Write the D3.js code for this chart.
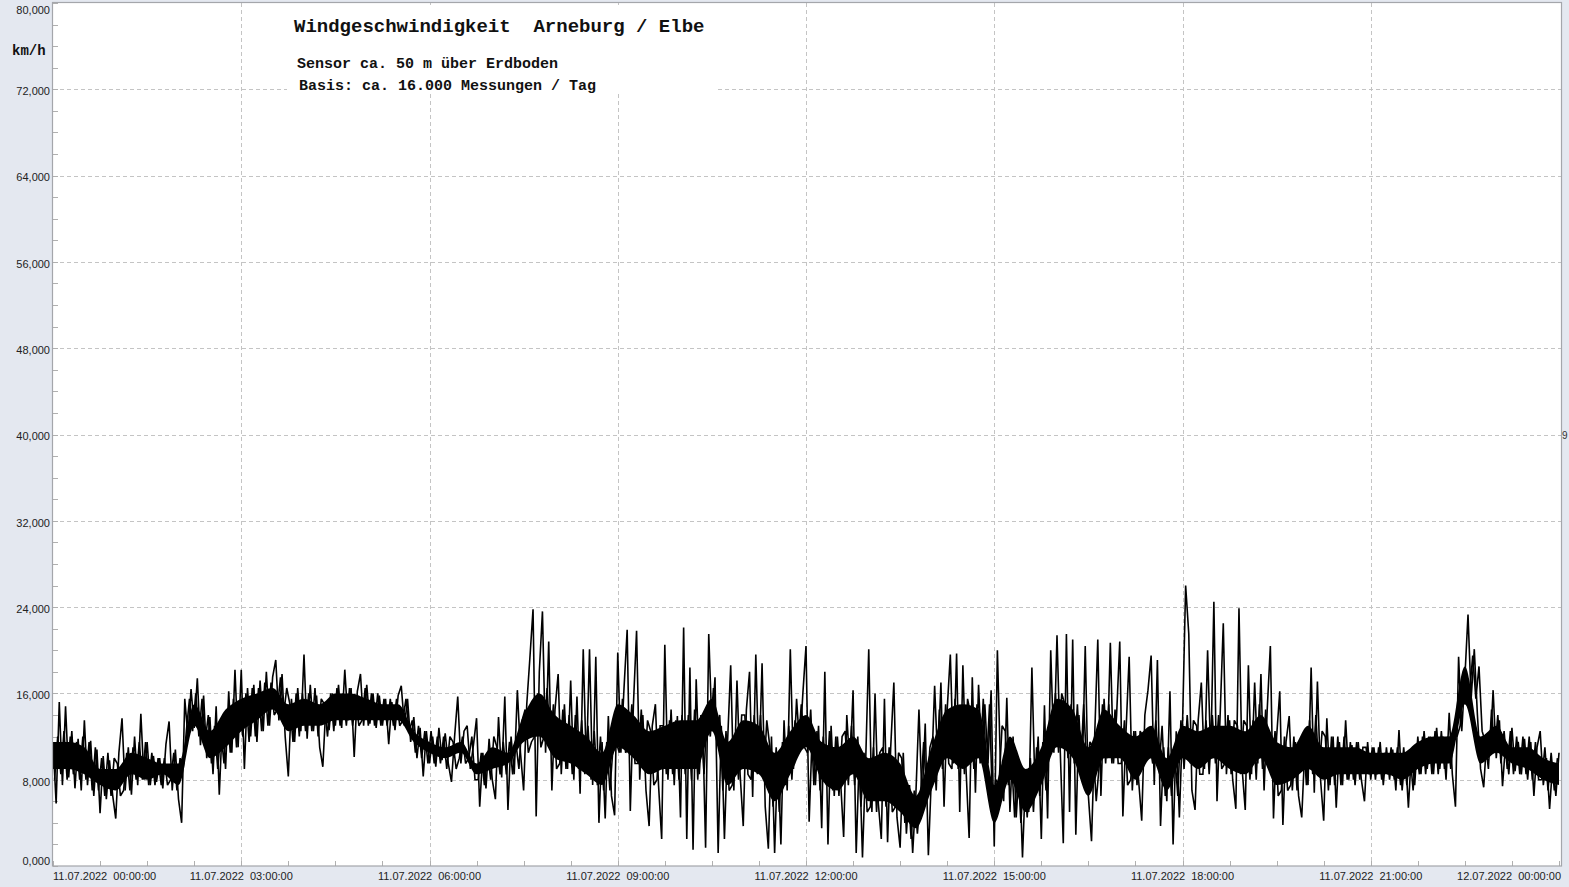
<!DOCTYPE html>
<html>
<head>
<meta charset="utf-8">
<script src="https://cdn.jsdelivr.net/npm/d3@7"></script>
<style>
  html, body { margin: 0; padding: 0; background: #e4e8f0; }
  svg { display: block; }
</style>
</head>
<body>
<svg id="chart" width="1569" height="887"></svg>
<script>
// ---- data (km/h) ----
// readings every 3 minutes from 11.07.2022 00:00 to 12.07.2022 00:00 (peaks / troughs)
const stepMinutes = 3;
const speed = [
  11.5, 5.8, 15.2, 7.5, 14.8, 8.2, 12.5, 7.2, 11.8, 7.0,
  13.5, 7.5, 11.6, 6.5, 10.8, 4.9, 10.2, 6.2, 9.8, 6.6,
  4.4, 10.5, 13.7, 7.0, 11.0, 6.6, 12.0, 7.5, 14.1, 8.0,
  11.5, 7.5, 10.2, 7.8, 10.0, 7.2, 11.3, 13.4, 7.0, 10.8,
  6.2, 4.0, 15.5, 12.0, 16.4, 12.8, 17.4, 11.2, 15.8, 10.0,
  13.8, 8.5, 14.8, 6.6, 13.5, 9.0, 16.2, 10.5, 18.2, 11.0,
  18.2, 9.0, 16.5, 12.0, 16.8, 11.5, 17.2, 12.5, 18.0, 13.0,
  17.5, 19.1, 13.5, 17.8, 12.0, 8.3, 15.5, 11.5, 16.5, 12.5,
  19.6, 11.8, 16.8, 12.5, 15.8, 11.0, 9.2, 15.0, 12.6, 16.0,
  13.0, 16.8, 12.8, 18.2, 13.5, 16.5, 10.1, 16.2, 17.8, 13.0,
  16.8, 13.2, 16.0, 12.8, 15.8, 13.0, 15.5, 11.3, 15.2, 12.6,
  15.8, 16.7, 13.0, 15.5, 11.5, 13.8, 10.0, 12.8, 8.3, 12.5,
  9.5, 12.0, 9.2, 12.8, 9.8, 12.3, 9.5, 7.8, 12.0, 15.7,
  9.5, 12.5, 13.0, 9.0, 11.2, 13.7, 5.5, 10.5, 7.2, 11.8,
  8.0, 6.2, 13.8, 8.2, 15.7, 5.2, 12.0, 8.5, 16.3, 10.5,
  7.0, 15.0, 19.3, 23.8, 4.6, 18.0, 23.6, 10.5, 20.8, 7.0,
  14.5, 17.8, 8.5, 15.0, 9.0, 17.2, 8.0, 15.7, 6.7, 20.1,
  9.0, 20.1, 7.5, 19.4, 4.0, 11.5, 4.4, 13.9, 6.5, 4.7,
  19.8, 10.5, 16.5, 21.9, 5.1, 15.0, 21.8, 8.0, 14.0, 7.0,
  3.7, 13.0, 15.0, 7.5, 2.5, 20.5, 8.0, 14.5, 7.5, 13.9,
  4.5, 22.1, 2.5, 18.4, 1.5, 17.3, 8.5, 14.0, 1.7, 21.5,
  13.0, 17.5, 1.2, 13.0, 2.5, 11.5, 18.6, 7.0, 17.2, 8.5,
  3.7, 14.5, 18.0, 6.4, 19.6, 9.0, 18.8, 5.5, 1.6, 12.0,
  1.2, 10.5, 2.0, 13.5, 7.0, 20.1, 9.0, 15.5, 11.0, 16.0,
  20.4, 4.1, 12.5, 7.5, 13.0, 3.5, 18.0, 2.0, 13.0, 6.5,
  12.0, 8.0, 2.7, 14.0, 9.0, 16.3, 1.2, 10.5, 0.8, 9.5,
  20.1, 5.0, 16.0, 6.0, 2.5, 15.5, 2.2, 11.0, 17.0, 4.5,
  1.7, 10.5, 3.0, 7.5, 1.2, 6.5, 14.5, 6.0, 13.2, 1.0,
  8.5, 16.7, 9.5, 17.0, 5.5, 14.5, 19.6, 9.5, 19.7, 5.0,
  18.6, 9.0, 2.6, 17.5, 6.8, 16.8, 10.0, 15.0, 9.5, 16.3,
  1.8, 20.0, 9.0, 6.0, 15.6, 5.0, 12.0, 4.5, 9.5, 0.8,
  8.5, 5.0, 18.4, 7.0, 12.0, 2.5, 14.9, 4.4, 20.0, 10.5,
  21.4, 11.0, 2.1, 21.5, 5.0, 21.0, 2.9, 14.0, 8.0, 20.4,
  6.5, 2.3, 12.0, 21.0, 6.5, 15.5, 10.0, 20.7, 9.5, 14.0,
  20.8, 4.6, 12.5, 19.4, 7.0, 12.5, 8.0, 4.2, 14.0, 16.3,
  19.5, 7.5, 19.1, 3.7, 11.0, 6.0, 16.2, 2.0, 12.5, 4.5,
  13.0, 26.0, 21.5, 7.0, 5.2, 13.5, 17.0, 9.0, 20.0, 10.0,
  24.5, 6.0, 14.0, 22.5, 8.5, 13.5, 8.0, 5.3, 23.9, 9.0,
  5.2, 18.6, 8.5, 17.0, 9.5, 17.8, 7.0, 14.5, 20.4, 4.4,
  12.0, 16.2, 3.8, 11.5, 13.9, 7.0, 11.5, 6.5, 4.5, 11.0,
  7.5, 18.4, 6.8, 17.1, 8.0, 4.2, 13.7, 7.5, 12.0, 5.4,
  11.5, 7.5, 13.5, 8.0, 11.2, 7.5, 11.5, 8.0, 6.0, 11.5,
  8.0, 11.0, 8.5, 11.5, 7.5, 11.0, 8.0, 10.8, 7.0, 12.6,
  7.0, 10.5, 5.4, 10.8, 7.5, 12.0, 8.5, 12.5, 9.0, 12.0,
  8.5, 12.8, 9.0, 12.0, 8.0, 14.2, 8.5, 5.5, 19.4, 12.5,
  17.5, 23.3, 15.5, 20.1, 14.0, 9.0, 7.3, 12.0, 10.5, 16.3,
  10.0, 13.5, 7.4, 11.5, 8.5, 12.8, 8.8, 11.5, 8.5, 11.8,
  8.0, 11.5, 6.5, 11.0, 12.5, 7.5, 10.0, 5.3, 9.5, 6.5,
  10.5
];
// in-between readings, 1.5 minutes after each of the above
const speedMid = [
  8.0, 12.0, 8.5, 12.5, 8.0, 12.0, 8.5, 11.5, 8.0, 12.0,
  8.0, 11.5, 7.0, 11.0, 7.0, 10.0, 6.5, 10.5, 6.5, 10.0,
  9.5, 6.5, 7.0, 10.5, 7.0, 11.0, 8.0, 11.5, 8.0, 11.5,
  7.5, 10.5, 7.5, 10.0, 7.5, 10.0, 7.5, 8.0, 10.5, 7.0,
  10.0, 9.0, 12.5, 15.5, 12.5, 16.0, 12.0, 15.5, 11.5, 14.0,
  9.5, 13.0, 9.0, 12.5, 9.5, 14.5, 10.5, 15.5, 11.0, 15.0,
  12.0, 16.0, 11.5, 16.5, 12.0, 16.5, 12.5, 17.0, 13.0, 17.0,
  14.0, 14.5, 17.5, 14.0, 16.5, 15.0, 11.5, 16.0, 12.0, 16.0,
  12.5, 16.0, 12.5, 16.5, 12.0, 15.5, 15.0, 12.0, 16.0, 12.5,
  16.5, 13.0, 16.0, 13.0, 16.5, 13.0, 15.5, 13.0, 13.5, 16.5,
  13.0, 16.0, 13.0, 16.0, 13.0, 15.5, 13.0, 15.5, 13.0, 15.5,
  13.0, 13.5, 15.5, 12.5, 13.5, 10.5, 13.0, 10.0, 12.5, 9.5,
  12.5, 9.5, 12.0, 9.5, 12.0, 9.0, 12.0, 11.5, 9.0, 10.0,
  12.0, 9.5, 10.0, 12.0, 8.0, 8.0, 10.5, 7.5, 10.5, 8.0,
  12.0, 11.0, 8.5, 11.5, 8.5, 11.5, 8.5, 11.5, 9.0, 13.5,
  14.5, 10.5, 11.5, 12.0, 16.0, 11.0, 12.0, 16.5, 11.0, 15.0,
  9.0, 9.5, 14.5, 9.0, 14.0, 8.5, 14.0, 9.0, 13.5, 8.5,
  13.0, 8.0, 12.5, 7.5, 12.0, 7.0, 11.5, 7.0, 11.0, 11.5,
  10.5, 15.5, 10.5, 11.0, 15.0, 9.5, 9.5, 14.5, 9.0, 13.5,
  12.5, 7.5, 8.0, 13.0, 13.0, 8.5, 13.5, 8.5, 13.5, 8.0,
  14.0, 8.5, 14.0, 8.0, 14.5, 8.0, 14.0, 8.5, 14.5, 12.0,
  16.5, 12.0, 14.0, 7.0, 12.5, 7.0, 7.5, 12.0, 8.0, 14.0,
  14.0, 8.5, 8.0, 14.0, 8.5, 14.0, 8.0, 13.5, 11.0, 5.5,
  11.0, 5.0, 11.5, 7.5, 13.0, 8.0, 13.5, 11.0, 15.0, 11.0,
  10.5, 14.5, 7.5, 12.5, 7.0, 12.0, 7.5, 12.5, 7.0, 12.0,
  6.5, 12.0, 12.5, 7.5, 13.0, 7.5, 12.0, 5.5, 10.5, 5.0,
  5.5, 11.0, 5.0, 10.5, 11.0, 5.5, 11.0, 5.0, 5.5, 10.5,
  10.0, 4.0, 7.5, 2.5, 7.0, 3.0, 6.5, 11.5, 6.5, 11.0,
  12.0, 7.0, 14.5, 9.0, 15.0, 9.5, 9.0, 15.5, 9.0, 14.5,
  8.5, 15.5, 14.0, 9.0, 15.0, 9.5, 15.5, 9.0, 15.0, 5.0,
  8.0, 7.5, 13.0, 12.5, 7.5, 10.0, 4.5, 9.5, 4.0, 9.0,
  4.5, 10.0, 5.0, 11.0, 6.5, 11.5, 7.0, 12.0, 11.0, 16.0,
  10.5, 16.0, 15.0, 10.0, 15.0, 9.5, 15.0, 9.0, 15.0, 9.0,
  11.5, 11.0, 6.0, 9.5, 15.0, 9.5, 15.0, 9.5, 14.5, 9.5,
  9.5, 13.5, 7.5, 8.0, 12.5, 7.5, 12.5, 12.0, 11.0, 11.5,
  9.5, 13.5, 9.0, 13.0, 6.5, 11.0, 6.5, 10.5, 6.5, 13.5,
  9.0, 14.0, 9.5, 13.5, 13.0, 8.5, 8.5, 13.5, 8.5, 14.0,
  9.5, 14.0, 9.0, 9.5, 14.0, 8.5, 13.5, 13.0, 8.5, 13.5,
  13.0, 8.0, 13.5, 8.0, 15.0, 9.0, 14.5, 9.5, 9.0, 12.5,
  6.5, 7.0, 12.0, 7.0, 7.5, 12.0, 7.0, 11.5, 12.0, 7.5,
  13.5, 8.5, 14.0, 8.5, 12.5, 12.0, 7.0, 12.0, 7.5, 12.0,
  7.5, 12.0, 8.0, 11.5, 8.0, 11.5, 8.0, 11.0, 11.0, 8.5,
  11.0, 8.0, 11.0, 8.0, 10.5, 8.5, 11.0, 8.0, 11.0, 7.5,
  11.0, 7.5, 10.5, 7.0, 11.0, 8.5, 12.0, 8.5, 12.0, 8.5,
  12.5, 8.5, 12.5, 9.0, 12.0, 9.0, 12.5, 12.0, 13.0, 18.0,
  15.0, 16.0, 19.5, 15.5, 18.5, 12.5, 11.5, 9.0, 14.5, 10.5,
  14.0, 9.5, 12.5, 9.0, 12.5, 8.5, 12.0, 8.5, 12.0, 8.5,
  12.0, 8.0, 11.5, 8.0, 8.0, 11.0, 7.0, 10.5, 7.0, 10.0
];
// dense core of the trace, one pair every 15 minutes
const bandMinutes = 15;
const bandLow = [
  9.0, 9.0, 8.5, 7.5, 7.0, 8.5, 8.0, 8.5, 7.5, 13.0,
  10.0, 11.0, 12.5, 13.5, 14.5, 12.5, 13.0, 13.0, 13.5, 13.5,
  13.5, 13.5, 13.5, 11.5, 10.5, 10.0, 10.5, 8.5, 9.0, 9.5,
  11.5, 12.0, 10.0, 9.5, 8.5, 7.5, 11.0, 10.0, 8.5, 9.0,
  9.0, 9.0, 12.5, 7.5, 9.0, 8.5, 6.0, 8.5, 11.0, 8.0,
  7.0, 8.5, 6.0, 6.0, 5.0, 3.5, 7.0, 10.0, 9.0, 10.0,
  4.0, 8.0, 5.0, 7.5, 11.0, 10.0, 6.5, 10.0, 10.0, 8.0,
  10.0, 7.0, 10.0, 9.0, 10.0, 9.0, 8.5, 10.0, 7.5, 8.0,
  9.0, 8.0, 8.5, 8.5, 8.5, 8.5, 8.0, 9.0, 9.5, 9.5,
  15.0, 9.5, 10.5, 9.5, 9.0, 8.0, 7.5
];
const bandHigh = [
  11.5, 11.5, 11.0, 9.0, 9.0, 10.5, 10.0, 9.5, 9.5, 15.0,
  12.5, 14.5, 15.5, 16.0, 16.5, 15.0, 15.5, 15.0, 16.0, 16.0,
  15.5, 15.0, 15.0, 12.5, 11.5, 11.0, 11.5, 9.5, 11.0, 10.5,
  14.0, 16.0, 14.0, 13.0, 12.0, 10.5, 15.0, 14.0, 12.5, 13.0,
  13.5, 13.5, 15.5, 11.5, 13.5, 13.0, 10.5, 12.5, 14.0, 11.5,
  11.0, 12.0, 10.0, 10.5, 9.5, 6.5, 11.0, 14.5, 15.0, 14.5,
  7.5, 12.0, 9.0, 11.0, 15.5, 14.5, 11.0, 14.5, 13.0, 12.0,
  13.0, 10.0, 13.0, 12.5, 13.0, 13.0, 12.5, 14.0, 11.5, 11.0,
  13.0, 11.0, 11.0, 11.0, 10.5, 10.5, 10.5, 11.5, 12.0, 12.0,
  18.5, 12.0, 13.0, 11.0, 11.0, 10.0, 9.5
];
const yTicks = [0, 8, 16, 24, 32, 40, 48, 56, 64, 72, 80];
const xTickMinutes = [0, 180, 360, 540, 720, 900, 1080, 1260, 1440];
const xTickLabels = [
  "11.07.2022  00:00:00", "11.07.2022  03:00:00", "11.07.2022  06:00:00",
  "11.07.2022  09:00:00", "11.07.2022  12:00:00", "11.07.2022  15:00:00",
  "11.07.2022  18:00:00", "11.07.2022  21:00:00", "12.07.2022  00:00:00"
];
const titleText = "Windgeschwindigkeit  Arneburg / Elbe";
const subtitleLines = ["Sensor ca. 50 m über Erdboden", "Basis: ca. 16.000 Messungen / Tag"];
const unitText = "km/h";

// ---- layout ----
const svg = d3.select("#chart");
const L = 53, R = 1561.5, T = 3, B = 866;
const x = d3.scaleLinear().domain([0, 1440]).range([53, 1559]);
const y = d3.scaleLinear().domain([0, 80]).range([B, T]);
const de = d3.formatLocale({decimal: ",", thousands: ".", grouping: [3], currency: ["", "€"]});
const fmt = de.format(".3f");
const gridColor = "#c4c4c4";
const borderColor = "#a4a6ab";
const sans = "'Liberation Sans', Arial, sans-serif";
const mono = "'Courier New', 'Liberation Mono', monospace";

svg.append("rect").attr("x", 0).attr("y", 0).attr("width", 1569).attr("height", 887).attr("fill", "#e4e8f0");
svg.append("rect").attr("x", L).attr("y", T).attr("width", R - L).attr("height", B - T).attr("fill", "#ffffff");

// horizontal grid
svg.append("g").selectAll("line").data(yTicks.filter(v => v > 0 && v < 80)).join("line")
  .attr("x1", L).attr("x2", R).attr("y1", d => Math.round(y(d)) + 0.5).attr("y2", d => Math.round(y(d)) + 0.5)
  .attr("stroke", gridColor).attr("stroke-dasharray", "4,3").attr("stroke-width", 1);
// vertical grid
svg.append("g").selectAll("line").data(xTickMinutes.filter(m => m > 0 && m < 1440)).join("line")
  .attr("x1", d => Math.round(x(d)) + 0.5).attr("x2", d => Math.round(x(d)) + 0.5).attr("y1", T).attr("y2", B)
  .attr("stroke", gridColor).attr("stroke-dasharray", "4,3").attr("stroke-width", 1);

// minor y ticks every 2 km/h
svg.append("g").selectAll("line").data(d3.range(0, 81, 2)).join("line")
  .attr("x1", L).attr("x2", L + 5).attr("y1", d => Math.round(y(d)) + 0.5).attr("y2", d => Math.round(y(d)) + 0.5)
  .attr("stroke", "#b0b0b0");
// minor x ticks every 45 min
svg.append("g").selectAll("line").data(d3.range(0, 1441, 45)).join("line")
  .attr("x1", d => Math.round(x(d)) + 0.5).attr("x2", d => Math.round(x(d)) + 0.5).attr("y1", B - 5).attr("y2", B)
  .attr("stroke", "#b0b0b0");

// white box behind header text
svg.append("rect").attr("x", 287).attr("y", 5).attr("width", 430).attr("height", 87).attr("fill", "#ffffff");

// dense core band
const band = d3.area()
  .curve(d3.curveMonotoneX)
  .x((d, i) => x(i * bandMinutes))
  .y0((d, i) => y(bandLow[i]))
  .y1((d, i) => y(bandHigh[i]));
svg.append("path").datum(bandLow).attr("d", band).attr("fill", "#000");

// readings: two interleaved traces
const lineMain = d3.line().x((d, i) => x(i * stepMinutes)).y(d => y(d));
const lineMid = d3.line().x((d, i) => x(i * stepMinutes + stepMinutes / 2)).y(d => y(d));
svg.append("path").datum(speedMid).attr("d", lineMid).attr("fill", "none")
  .attr("stroke", "#000").attr("stroke-width", 1.6).attr("stroke-linejoin", "miter").attr("stroke-miterlimit", 2);
svg.append("path").datum(speed).attr("d", lineMain).attr("fill", "none")
  .attr("stroke", "#000").attr("stroke-width", 1.6).attr("stroke-linejoin", "miter").attr("stroke-miterlimit", 2);

// plot border
svg.append("rect").attr("x", L - 0.5).attr("y", T - 0.5).attr("width", R - L + 0.5).attr("height", B - T + 0.5)
  .attr("fill", "none").attr("stroke", borderColor).attr("stroke-width", 1.2);

// y tick labels
svg.append("g").selectAll("text").data(yTicks).join("text")
  .attr("x", 50).attr("y", d => Math.min(Math.max(y(d) + 2, 10), 861))
  .attr("dy", "0.35em").attr("text-anchor", "end")
  .attr("font-family", sans).attr("font-size", 11).attr("fill", "#222")
  .text(d => fmt(d));

// x tick labels
svg.append("g").selectAll("text").data(xTickMinutes).join("text")
  .attr("x", (d, i) => i === 0 ? L : (i === xTickMinutes.length - 1 ? 1561 : x(d)))
  .attr("y", 880)
  .attr("text-anchor", (d, i) => i === 0 ? "start" : (i === xTickMinutes.length - 1 ? "end" : "middle"))
  .attr("font-family", sans).attr("font-size", 11).attr("fill", "#222")
  .style("white-space", "pre")
  .text((d, i) => xTickLabels[i]);

// unit
svg.append("text").attr("x", 12).attr("y", 55).attr("font-family", mono).attr("font-weight", "bold")
  .attr("font-size", 14).attr("fill", "#111").text(unitText);

// title and subtitles
svg.append("text").attr("x", 294).attr("y", 32).attr("font-family", mono).attr("font-weight", "bold")
  .attr("font-size", 19).attr("fill", "#111").style("white-space", "pre").text(titleText);
svg.append("text").attr("x", 297).attr("y", 68).attr("font-family", mono).attr("font-weight", "bold")
  .attr("font-size", 15).attr("fill", "#111").style("white-space", "pre").text(subtitleLines[0]);
svg.append("text").attr("x", 299).attr("y", 90).attr("font-family", mono).attr("font-weight", "bold")
  .attr("font-size", 15).attr("fill", "#111").style("white-space", "pre").text(subtitleLines[1]);

// clipped right-edge label
svg.append("text").attr("x", 1562).attr("y", 435).attr("dy", "0.35em")
  .attr("font-family", sans).attr("font-size", 10).attr("fill", "#333").text("9");
</script>
</body>
</html>
